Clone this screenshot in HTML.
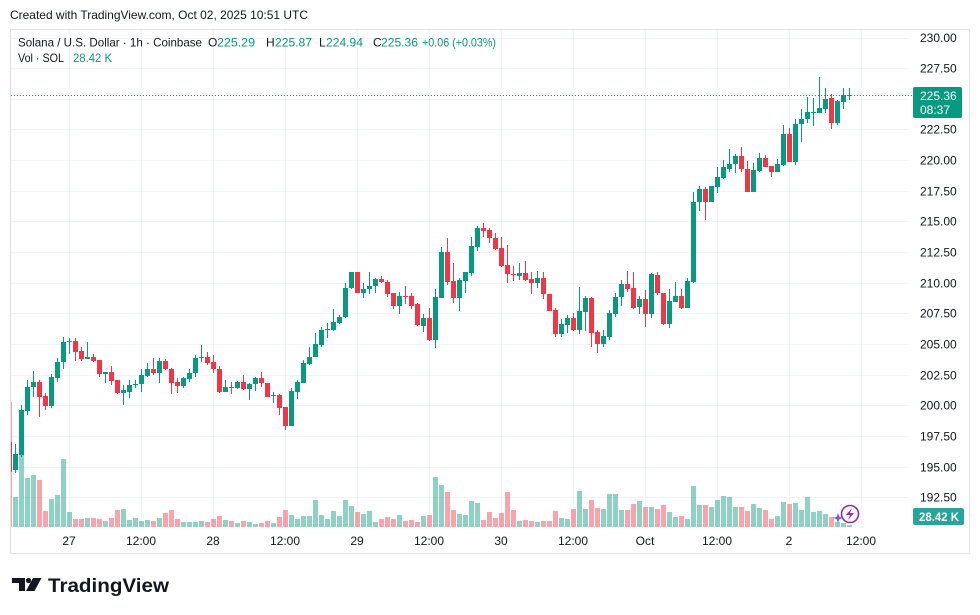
<!DOCTYPE html>
<html><head><meta charset="utf-8"><style>
html,body{margin:0;padding:0;background:#fff;}
svg{display:block;}
text{font-family:"Liberation Sans",Arial,sans-serif;}
</style></head><body>
<svg width="980" height="615" viewBox="0 0 980 615" xmlns="http://www.w3.org/2000/svg">
<rect width="980" height="615" fill="#fff"/>
<text x="10" y="19" font-size="12" fill="#131722" textLength="298" lengthAdjust="spacingAndGlyphs">Created with TradingView.com, Oct 02, 2025 10:51 UTC</text>
<rect x="10.5" y="29.5" width="959" height="524" fill="none" stroke="#e0e3eb" stroke-width="1"/>
<defs><clipPath id="pc"><rect x="11" y="30" width="898" height="497"/></clipPath></defs>
<g stroke="#f0f3fa" stroke-width="1" shape-rendering="crispEdges">
<path d="M11 38.5H909M11 68.5H909M11 99.5H909M11 129.5H909M11 160.5H909M11 191.5H909M11 221.5H909M11 252.5H909M11 283.5H909M11 313.5H909M11 344.5H909M11 375.5H909M11 405.5H909M11 436.5H909M11 467.5H909M11 497.5H909"/>
<path d="M69.5 30V527M141.5 30V527M213.5 30V527M285.5 30V527M357.5 30V527M429.5 30V527M501.5 30V527M573.5 30V527M645.5 30V527M717.5 30V527M789.5 30V527M861.5 30V527"/>
</g>
<g clip-path="url(#pc)" shape-rendering="crispEdges">
<path fill="rgba(8,153,129,0.45)" d="M13 497h5V527h-5zM19 455h5V527h-5zM25 478h5V527h-5zM31 475h5V527h-5zM49 499h5V527h-5zM55 495h5V527h-5zM61 459h5V527h-5zM67 512h5V527h-5zM85 518h5V527h-5zM103 521h5V527h-5zM121 509h5V527h-5zM127 520h5V527h-5zM133 518h5V527h-5zM139 521h5V527h-5zM145 520h5V527h-5zM157 518h5V527h-5zM181 522h5V527h-5zM187 522h5V527h-5zM193 522h5V527h-5zM199 521h5V527h-5zM223 520h5V527h-5zM235 523h5V527h-5zM247 522h5V527h-5zM253 524h5V527h-5zM271 523h5V527h-5zM289 515h5V527h-5zM295 519h5V527h-5zM301 516h5V527h-5zM307 516h5V527h-5zM313 500h5V527h-5zM319 515h5V527h-5zM325 519h5V527h-5zM331 511h5V527h-5zM337 516h5V527h-5zM343 500h5V527h-5zM349 506h5V527h-5zM361 514h5V527h-5zM367 511h5V527h-5zM373 522h5V527h-5zM397 515h5V527h-5zM421 516h5V527h-5zM433 477h5V527h-5zM439 485h5V527h-5zM457 514h5V527h-5zM463 515h5V527h-5zM469 501h5V527h-5zM475 503h5V527h-5zM517 521h5V527h-5zM535 522h5V527h-5zM559 518h5V527h-5zM565 519h5V527h-5zM577 491h5V527h-5zM583 509h5V527h-5zM601 509h5V527h-5zM607 494h5V527h-5zM613 494h5V527h-5zM619 510h5V527h-5zM637 501h5V527h-5zM649 507h5V527h-5zM667 512h5V527h-5zM673 517h5V527h-5zM685 519h5V527h-5zM691 486h5V527h-5zM697 505h5V527h-5zM709 507h5V527h-5zM715 500h5V527h-5zM721 496h5V527h-5zM727 497h5V527h-5zM733 507h5V527h-5zM751 504h5V527h-5zM757 508h5V527h-5zM775 516h5V527h-5zM781 502h5V527h-5zM793 503h5V527h-5zM799 510h5V527h-5zM805 497h5V527h-5zM811 512h5V527h-5zM817 511h5V527h-5zM823 514h5V527h-5zM835 522h5V527h-5zM841 523h5V527h-5zM847 525h5V527h-5z"/>
<path fill="rgba(242,54,69,0.45)" d="M7 402h5V527h-5zM37 480h5V527h-5zM43 511h5V527h-5zM73 519h5V527h-5zM79 519h5V527h-5zM91 518h5V527h-5zM97 519h5V527h-5zM109 518h5V527h-5zM115 510h5V527h-5zM151 521h5V527h-5zM163 513h5V527h-5zM169 510h5V527h-5zM175 519h5V527h-5zM205 522h5V527h-5zM211 519h5V527h-5zM217 516h5V527h-5zM229 521h5V527h-5zM241 521h5V527h-5zM259 523h5V527h-5zM265 521h5V527h-5zM277 517h5V527h-5zM283 510h5V527h-5zM355 512h5V527h-5zM379 519h5V527h-5zM385 517h5V527h-5zM391 519h5V527h-5zM403 521h5V527h-5zM409 520h5V527h-5zM415 522h5V527h-5zM427 515h5V527h-5zM445 492h5V527h-5zM451 510h5V527h-5zM481 520h5V527h-5zM487 512h5V527h-5zM493 518h5V527h-5zM499 513h5V527h-5zM505 492h5V527h-5zM511 510h5V527h-5zM523 520h5V527h-5zM529 521h5V527h-5zM541 521h5V527h-5zM547 521h5V527h-5zM553 511h5V527h-5zM571 509h5V527h-5zM589 500h5V527h-5zM595 508h5V527h-5zM625 510h5V527h-5zM631 504h5V527h-5zM643 507h5V527h-5zM655 509h5V527h-5zM661 505h5V527h-5zM679 516h5V527h-5zM703 505h5V527h-5zM739 507h5V527h-5zM745 511h5V527h-5zM763 510h5V527h-5zM769 519h5V527h-5zM787 504h5V527h-5zM829 517h5V527h-5z"/>
<path stroke="#089981" stroke-width="1" fill="none" d="M15.5 444V473M21.5 405V457M27.5 380V415M33.5 371V397M51.5 374V408M57.5 358V382M63.5 337V369M69.5 338V354M87.5 342V359M105.5 372V383M123.5 385V405M129.5 380V398M135.5 380V388M141.5 369V392M147.5 363V377M159.5 358V383M183.5 377V388M189.5 369V382M195.5 355V377M201.5 345V362M225.5 380V392M237.5 381V389M249.5 383V400M255.5 377V391M273.5 392V403M291.5 388V426M297.5 380V399M303.5 360V383M309.5 347V365M315.5 333V357M321.5 327V347M327.5 323V338M333.5 309V331M339.5 315V324M345.5 283V318M351.5 272V289M363.5 283V298M369.5 272V294M375.5 278V293M399.5 292V314M423.5 314V332M435.5 289V348M441.5 247V298M459.5 278V311M465.5 272V293M471.5 237V276M477.5 226V251M519.5 263V280M537.5 271V288M561.5 319V337M567.5 315V333M579.5 287V334M585.5 296V331M603.5 330V347M609.5 310V340M615.5 293V317M621.5 280V306M639.5 296V314M651.5 273V318M669.5 289V328M675.5 282V302M687.5 278V308M693.5 192V283M699.5 186V211M711.5 186V202M717.5 167V193M723.5 160V179M729.5 149V172M735.5 154V173M753.5 163V192M759.5 153V172M777.5 159V172M783.5 125V166M795.5 119V165M801.5 109V142M807.5 97V123M813.5 98V126M819.5 77V113M825.5 88V113M837.5 100V125M843.5 88V109M849.5 88V100"/>
<path stroke="#f23645" stroke-width="1" fill="none" d="M9.5 440V474M39.5 380V417M45.5 393V410M75.5 338V361M81.5 347V361M93.5 354V362M99.5 360V377M111.5 366V385M117.5 380V394M153.5 358V375M165.5 359V370M171.5 368V394M177.5 378V393M207.5 352V365M213.5 355V373M219.5 366V393M231.5 382V394M243.5 375V390M261.5 372V387M267.5 383V397M279.5 394V415M285.5 407V430M357.5 272V293M381.5 276V283M387.5 280V297M393.5 293V309M405.5 286V304M411.5 293V309M417.5 303V326M429.5 308V341M447.5 238V285M453.5 263V303M483.5 223V237M489.5 228V243M495.5 233V250M501.5 237V267M507.5 245V283M513.5 266V281M525.5 261V281M531.5 272V294M543.5 272V299M549.5 294V311M555.5 308V337M573.5 313V331M591.5 297V347M597.5 330V353M627.5 271V292M633.5 272V309M645.5 290V327M657.5 272V295M663.5 293V325M681.5 289V309M705.5 187V220M741.5 147V172M747.5 161V192M765.5 155V167M771.5 166V177M789.5 128V162M831.5 94V129"/>
<path fill="#089981" d="M13 454h5v16h-5zM19 410h5v45h-5zM25 387h5v24h-5zM31 382h5v5h-5zM49 377h5v29h-5zM55 362h5v16h-5zM61 342h5v20h-5zM67 341h5v1h-5zM85 357h5v2h-5zM103 372h5v2h-5zM121 390h5v3h-5zM127 385h5v7h-5zM133 384h5v1h-5zM139 375h5v9h-5zM145 369h5v7h-5zM157 361h5v12h-5zM181 378h5v8h-5zM187 373h5v6h-5zM193 358h5v15h-5zM199 357h5v1h-5zM223 387h5v5h-5zM235 382h5v6h-5zM247 384h5v5h-5zM253 378h5v6h-5zM271 395h5v1h-5zM289 391h5v35h-5zM295 382h5v10h-5zM301 363h5v20h-5zM307 357h5v7h-5zM313 344h5v13h-5zM319 330h5v15h-5zM325 329h5v1h-5zM331 322h5v8h-5zM337 317h5v6h-5zM343 288h5v29h-5zM349 272h5v16h-5zM361 289h5v4h-5zM367 286h5v3h-5zM373 279h5v7h-5zM397 296h5v10h-5zM421 318h5v8h-5zM433 297h5v43h-5zM439 252h5v46h-5zM457 280h5v18h-5zM463 272h5v9h-5zM469 246h5v27h-5zM475 228h5v19h-5zM517 273h5v3h-5zM535 278h5v5h-5zM559 324h5v10h-5zM565 318h5v7h-5zM577 311h5v19h-5zM583 298h5v14h-5zM601 336h5v8h-5zM607 313h5v24h-5zM613 297h5v17h-5zM619 284h5v13h-5zM637 299h5v8h-5zM649 274h5v40h-5zM667 301h5v23h-5zM673 296h5v6h-5zM685 281h5v27h-5zM691 202h5v80h-5zM697 189h5v13h-5zM709 186h5v16h-5zM715 177h5v10h-5zM721 167h5v11h-5zM727 164h5v5h-5zM733 156h5v8h-5zM751 170h5v22h-5zM757 158h5v13h-5zM775 164h5v8h-5zM781 134h5v31h-5zM793 124h5v38h-5zM799 119h5v5h-5zM805 112h5v7h-5zM811 112h5v1h-5zM817 108h5v5h-5zM823 99h5v10h-5zM835 101h5v22h-5zM841 95h5v7h-5zM847 95h5v1h-5z"/>
<path fill="#f23645" d="M7 442h5v30h-5zM37 382h5v15h-5zM43 396h5v10h-5zM73 341h5v11h-5zM79 351h5v8h-5zM91 357h5v4h-5zM97 360h5v14h-5zM109 372h5v9h-5zM115 380h5v13h-5zM151 369h5v4h-5zM163 361h5v8h-5zM169 369h5v14h-5zM175 382h5v4h-5zM205 357h5v6h-5zM211 362h5v7h-5zM217 369h5v23h-5zM229 387h5v1h-5zM241 382h5v7h-5zM259 378h5v5h-5zM265 383h5v14h-5zM277 395h5v13h-5zM283 407h5v19h-5zM355 272h5v21h-5zM379 279h5v3h-5zM385 282h5v12h-5zM391 293h5v13h-5zM403 296h5v1h-5zM409 296h5v10h-5zM415 304h5v21h-5zM427 318h5v22h-5zM445 252h5v30h-5zM451 281h5v17h-5zM481 228h5v3h-5zM487 230h5v8h-5zM493 238h5v11h-5zM499 248h5v18h-5zM505 265h5v9h-5zM511 274h5v1h-5zM523 273h5v7h-5zM529 279h5v4h-5zM541 278h5v16h-5zM547 294h5v17h-5zM553 310h5v24h-5zM571 318h5v12h-5zM589 298h5v35h-5zM595 332h5v12h-5zM625 284h5v5h-5zM631 288h5v20h-5zM643 299h5v15h-5zM655 275h5v18h-5zM661 293h5v31h-5zM679 296h5v12h-5zM703 189h5v13h-5zM739 156h5v13h-5zM745 169h5v23h-5zM763 158h5v9h-5zM769 166h5v6h-5zM787 134h5v28h-5zM829 98h5v25h-5z"/>
</g>
<path d="M11 95.5H912" stroke="#089981" stroke-width="1" stroke-dasharray="1 2" shape-rendering="crispEdges"/>
<!-- legend -->
<g font-size="12">
<text x="18" y="46.5" fill="#131722" textLength="184" lengthAdjust="spacingAndGlyphs">Solana / U.S. Dollar · 1h · Coinbase</text>
<text x="208" y="46.5" fill="#131722">O</text><text x="217" y="46.5" fill="#089981" textLength="38" lengthAdjust="spacingAndGlyphs">225.29</text>
<text x="266" y="46.5" fill="#131722">H</text><text x="275" y="46.5" fill="#089981" textLength="37" lengthAdjust="spacingAndGlyphs">225.87</text>
<text x="319" y="46.5" fill="#131722">L</text><text x="326" y="46.5" fill="#089981" textLength="37" lengthAdjust="spacingAndGlyphs">224.94</text>
<text x="373" y="46.5" fill="#131722">C</text><text x="381" y="46.5" fill="#089981" textLength="37" lengthAdjust="spacingAndGlyphs">225.36</text>
<text x="422" y="46.5" fill="#089981" textLength="74" lengthAdjust="spacingAndGlyphs">+0.06 (+0.03%)</text>
<text x="18" y="62" fill="#131722" textLength="46" lengthAdjust="spacingAndGlyphs">Vol · SOL</text>
<text x="73" y="62" fill="#089981" textLength="39" lengthAdjust="spacingAndGlyphs">28.42 K</text>
</g>
<!-- price axis -->
<g font-size="12" fill="#131722">
<text x="920" y="42">230.00</text>
<text x="920" y="72.5">227.50</text>
<text x="920" y="133.5">222.50</text>
<text x="920" y="164.5">220.00</text>
<text x="920" y="195.5">217.50</text>
<text x="920" y="225.5">215.00</text>
<text x="920" y="256.5">212.50</text>
<text x="920" y="287.5">210.00</text>
<text x="920" y="317.5">207.50</text>
<text x="920" y="348.5">205.00</text>
<text x="920" y="379.5">202.50</text>
<text x="920" y="409.5">200.00</text>
<text x="920" y="440.5">197.50</text>
<text x="920" y="471.5">195.00</text>
<text x="920" y="501.5">192.50</text>
</g>
<rect x="913" y="87" width="49" height="31" rx="2" fill="#089981"/>
<text x="920" y="100" font-size="12" fill="#fff">225.36</text>
<text x="920" y="114" font-size="12" fill="#fff">08:37</text>
<rect x="913" y="508" width="51" height="17" rx="2" fill="#26a69a"/>
<text x="919" y="521" font-size="12" fill="#fff" font-weight="bold" textLength="40" lengthAdjust="spacingAndGlyphs">28.42 K</text>
<!-- time axis -->
<g font-size="12" fill="#131722" text-anchor="middle">
<text x="69" y="545">27</text>
<text x="141" y="545">12:00</text>
<text x="213" y="545">28</text>
<text x="285" y="545">12:00</text>
<text x="357" y="545">29</text>
<text x="429" y="545">12:00</text>
<text x="501" y="545">30</text>
<text x="573" y="545">12:00</text>
<text x="645" y="545">Oct</text>
<text x="717" y="545">12:00</text>
<text x="789" y="545">2</text>
<text x="861" y="545">12:00</text>
</g>
<!-- lightning icon -->
<circle cx="850" cy="514" r="8.5" fill="#fff" stroke="#9c27b0" stroke-width="1.6"/>
<path d="M852 508L846 515H850L848 520L854 513H850Z" fill="#9c27b0"/>
<path d="M838 513L839.3 516.7L843 518L839.3 519.3L838 523L836.7 519.3L833 518L836.7 516.7Z" fill="#6f5cf0"/>
<!-- logo -->
<g fill="#131722">
<path d="M12 578h13v13h-6v-8h-7z"/>
<circle cx="28.5" cy="580.5" r="2.6"/>
<path d="M33 578h8.5l-7 13h-8.5z"/>
</g>
<text x="48" y="592" font-size="19.5" font-weight="bold" fill="#131722" textLength="121" lengthAdjust="spacingAndGlyphs">TradingView</text>
</svg>
</body></html>
